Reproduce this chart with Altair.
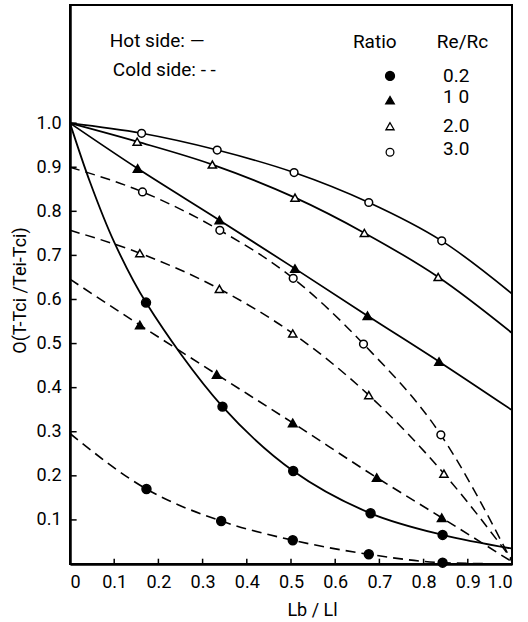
import altair as alt
import pandas as pd

# ---------------- data ----------------
X_TICKS = [0.1, 0.2, 0.3, 0.4, 0.5, 0.6, 0.7, 0.8, 0.9]
Y_TICKS = [0.1, 0.2, 0.3, 0.4, 0.5, 0.6, 0.7, 0.8, 0.9, 1.0]
X_LABELS = [0, 0.1, 0.2, 0.3, 0.4, 0.5, 0.6, 0.7, 0.8, 0.9, 1.0]

RATIOS = ["0.2", "1.0", "2.0", "3.0"]
RATIO_TEXT = ["0.2", "1 0", "2.0", "3.0"]

# Hot side (solid)
HOT_02_X = [0.0, 0.045, 0.10, 0.172, 0.345, 0.505, 0.68, 0.843, 1.0]
HOT_02_Y = [1.0, 0.867, 0.73, 0.593, 0.357, 0.211, 0.115, 0.066, 0.035]
HOT_02_M = [0, 0, 0, 1, 1, 1, 1, 1, 0]

HOT_10_X = [0.0, 0.153, 0.338, 0.509, 0.673, 0.835, 1.0]
HOT_10_Y = [1.0, 0.897, 0.78, 0.67, 0.563, 0.459, 0.349]
HOT_10_M = [0, 1, 1, 1, 1, 1, 0]

HOT_20_X = [0.0, 0.152, 0.322, 0.509, 0.666, 0.833, 1.0]
HOT_20_Y = [1.0, 0.958, 0.906, 0.831, 0.751, 0.651, 0.524]
HOT_20_M = [0, 1, 1, 1, 1, 1, 0]

HOT_30_X = [0.0, 0.162, 0.333, 0.507, 0.676, 0.841, 1.0]
HOT_30_Y = [1.0, 0.977, 0.939, 0.888, 0.82, 0.733, 0.613]
HOT_30_M = [0, 1, 1, 1, 1, 1, 0]

# Cold side (dashed)
COLD_02_X = [0.0, 0.173, 0.342, 0.504, 0.676, 0.843, 1.0]
COLD_02_Y = [0.296, 0.17, 0.0975, 0.054, 0.022, 0.003, 0.0]
COLD_02_M = [0, 1, 1, 1, 1, 1, 0]

COLD_10_X = [0.0, 0.158, 0.332, 0.504, 0.694, 0.841, 1.0]
COLD_10_Y = [0.646, 0.542, 0.43, 0.32, 0.196, 0.105, 0.005]
COLD_10_M = [0, 1, 1, 1, 1, 1, 0]

COLD_20_X = [0.0, 0.158, 0.338, 0.504, 0.676, 0.846, 1.0]
COLD_20_Y = [0.757, 0.705, 0.624, 0.523, 0.383, 0.205, 0.01]
COLD_20_M = [0, 1, 1, 1, 1, 1, 0]

COLD_30_X = [0.0, 0.164, 0.339, 0.505, 0.664, 0.839, 1.0]
COLD_30_Y = [0.9, 0.844, 0.757, 0.648, 0.499, 0.293, 0.005]
COLD_30_M = [0, 1, 1, 1, 1, 1, 0]

SERIES = [
    ("hot", "0.2", HOT_02_X, HOT_02_Y, HOT_02_M),
    ("hot", "1.0", HOT_10_X, HOT_10_Y, HOT_10_M),
    ("hot", "2.0", HOT_20_X, HOT_20_Y, HOT_20_M),
    ("hot", "3.0", HOT_30_X, HOT_30_Y, HOT_30_M),
    ("cold", "0.2", COLD_02_X, COLD_02_Y, COLD_02_M),
    ("cold", "1.0", COLD_10_X, COLD_10_Y, COLD_10_M),
    ("cold", "2.0", COLD_20_X, COLD_20_Y, COLD_20_M),
    ("cold", "3.0", COLD_30_X, COLD_30_Y, COLD_30_M),
]

rows = []
for side, ratio, xs_, ys_, ms_ in SERIES:
    for i, (x, y, m) in enumerate(zip(xs_, ys_, ms_)):
        rows.append({"side": side, "ratio": ratio, "key": side + ratio,
                     "x": x, "y": y, "m": m, "i": i})
df = pd.DataFrame(rows)
df_hot = df[df["side"] == "hot"]
df_cold = df[df["side"] == "cold"]
df_marks = df[df["m"] == 1]

# ---------------- styling ----------------
FONT = "Roboto"
FS = 18
X_DOM = [0, 1.0]
Y_DOM = [0, 1.268]

xs = alt.Scale(domain=X_DOM, nice=False, zero=False)
ys = alt.Scale(domain=Y_DOM, nice=False, zero=False)

KEYS = [s + r for s in ("hot", "cold") for r in RATIOS]
WIDTHS = [1.8, 1.5, 1.2, 1.2, 1.5, 1.8, 1.2, 1.8]
width_scale = alt.Scale(domain=KEYS, range=WIDTHS)

shape_scale = alt.Scale(domain=RATIOS,
                        range=["circle", "triangle-up", "triangle-up", "circle"])
fill_scale = alt.Scale(domain=RATIOS, range=["black", "black", "white", "white"])
size_scale = alt.Scale(domain=RATIOS, range=[80, 60, 55, 55])

x_axis = alt.Axis(values=X_LABELS, title="Lb / Ll",
                  labelExpr="datum.value == 0 ? '0' : format(datum.value, '.1f')",
                  titleX=242, titleY=46, titleBaseline="middle",
                  titleAnchor="middle", titleAlign="center")
y_axis = alt.Axis(values=Y_TICKS, title="O(T-Tci /Tei-Tci)",
                  labelExpr="format(datum.value, '.1f')",
                  titleX=-50, titleY=285, titleAngle=270,
                  titleBaseline="middle", titleAlign="center")

hot_lines = alt.Chart(df_hot).mark_line(interpolate="catmull-rom", color="black").encode(
    x=alt.X("x:Q", scale=xs, axis=x_axis),
    y=alt.Y("y:Q", scale=ys, axis=y_axis),
    detail="key:N",
    order="i:Q",
    strokeWidth=alt.StrokeWidth("key:N", scale=width_scale, legend=None),
)

cold_lines = alt.Chart(df_cold).mark_line(interpolate="monotone", color="black",
                                          strokeDash=[10, 6]).encode(
    x=alt.X("x:Q", scale=xs),
    y=alt.Y("y:Q", scale=ys),
    detail="key:N",
    order="i:Q",
    strokeWidth=alt.StrokeWidth("key:N", scale=width_scale, legend=None),
)

points = alt.Chart(df_marks).mark_point(stroke="black", strokeWidth=1.5, opacity=1).encode(
    x=alt.X("x:Q", scale=xs),
    y=alt.Y("y:Q", scale=ys),
    shape=alt.Shape("ratio:N", scale=shape_scale, legend=None),
    fill=alt.Fill("ratio:N", scale=fill_scale, legend=None),
    size=alt.Size("ratio:N", scale=size_scale, legend=None),
)

# tick marks pointing into the plot
xt = pd.DataFrame({"x": X_TICKS})
yt = pd.DataFrame({"y": Y_TICKS})
xticks = alt.Chart(xt).mark_rule(color="black", strokeWidth=1.5).encode(
    x=alt.X("x:Q", scale=xs), y=alt.datum(0, scale=ys), y2=alt.datum(0.012))
yticks = alt.Chart(yt).mark_rule(color="black", strokeWidth=1.5).encode(
    y=alt.Y("y:Q", scale=ys), x=alt.datum(0, scale=xs), x2=alt.datum(0.015))

# in-plot legend
leg_text = pd.DataFrame({
    "label": ["Hot  side: \u2014", "Cold  side: - -", "Ratio", "Re/Rc"] + RATIO_TEXT,
    "x": [0.09, 0.097, 0.64, 0.83, 0.844, 0.844, 0.844, 0.844],
    "y": [1.186, 1.120, 1.184, 1.184, 1.107, 1.059, 0.993, 0.941],
})
texts = alt.Chart(leg_text).mark_text(align="left", baseline="middle", font=FONT,
                                      fontSize=FS + 1, color="black").encode(
    x=alt.X("x:Q", scale=xs), y=alt.Y("y:Q", scale=ys), text="label:N")

leg_marks = pd.DataFrame({
    "ratio": RATIOS,
    "x": [0.724, 0.724, 0.724, 0.724],
    "y": [1.107, 1.052, 0.993, 0.934],
})
leg_pts = alt.Chart(leg_marks).mark_point(stroke="black", strokeWidth=1.3, opacity=1).encode(
    x=alt.X("x:Q", scale=xs),
    y=alt.Y("y:Q", scale=ys),
    shape=alt.Shape("ratio:N", scale=shape_scale, legend=None),
    fill=alt.Fill("ratio:N", scale=fill_scale, legend=None),
    size=alt.Size("ratio:N", scale=alt.Scale(domain=RATIOS, range=[55, 40, 40, 45]),
                  legend=None),
)

chart = alt.layer(hot_lines, cold_lines, points, xticks, yticks, texts, leg_pts).properties(
    width=442, height=559,
    autosize=alt.AutoSizeParams(type="none"),
    padding={"left": 70, "top": 5, "right": 16, "bottom": 58},
    background="white",
).configure_view(
    stroke="black", strokeWidth=2,
).configure_axis(
    grid=False, ticks=False, domain=True, domainColor="black", domainWidth=2.5,
    labelFont=FONT, labelFontSize=FS, labelColor="black", labelPadding=9,
    titleFont=FONT, titleFontSize=FS, titleColor="black", titleFontWeight="normal",
)

chart.save("out.html", embed_options={"renderer": "svg", "actions": False})
